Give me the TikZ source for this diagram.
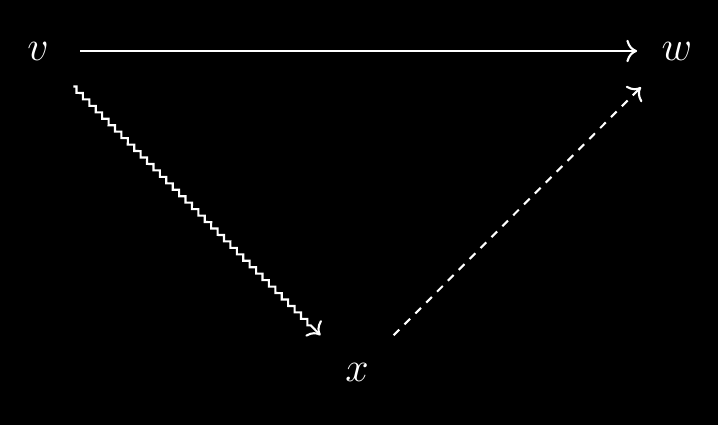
\documentclass[tikz,border=0pt]{standalone}
\usetikzlibrary{arrows.meta,decorations.pathmorphing}
\begin{document}
\begin{tikzpicture}[x=0.2857pt,y=-0.2857pt,line width=0.6pt,
  lbl/.style={text=white,inner sep=0pt,circle,font=\large},
  arr/.style={draw=white,-{Computer Modern Rightarrow[scale=1.05]}},
  squig/.style={decorate,decoration={zigzag,amplitude=0.65pt,segment length=2.6pt,pre length=0pt,post length=2.5pt}},
  dashline/.style={dash pattern=on 2.3pt off 2.1pt}]
\fill[black] (0,0) rectangle (718,425);
\useasboundingbox (0,0) rectangle (718,425);
\node[lbl,minimum size=28pt] (v) at (38,51) {$v$};
\node[lbl,minimum size=28.6pt] (w) at (677,51) {$w$};
\node[lbl,minimum size=29pt] (x) at (357,372) {$x$};
\draw[arr,shorten <=-2.3pt,shorten >=-3.2pt] (v) -- (w);
\draw[arr,squig] (v) -- (x);
\draw[arr,dashline] (x) -- (w);
\end{tikzpicture}
\end{document}
